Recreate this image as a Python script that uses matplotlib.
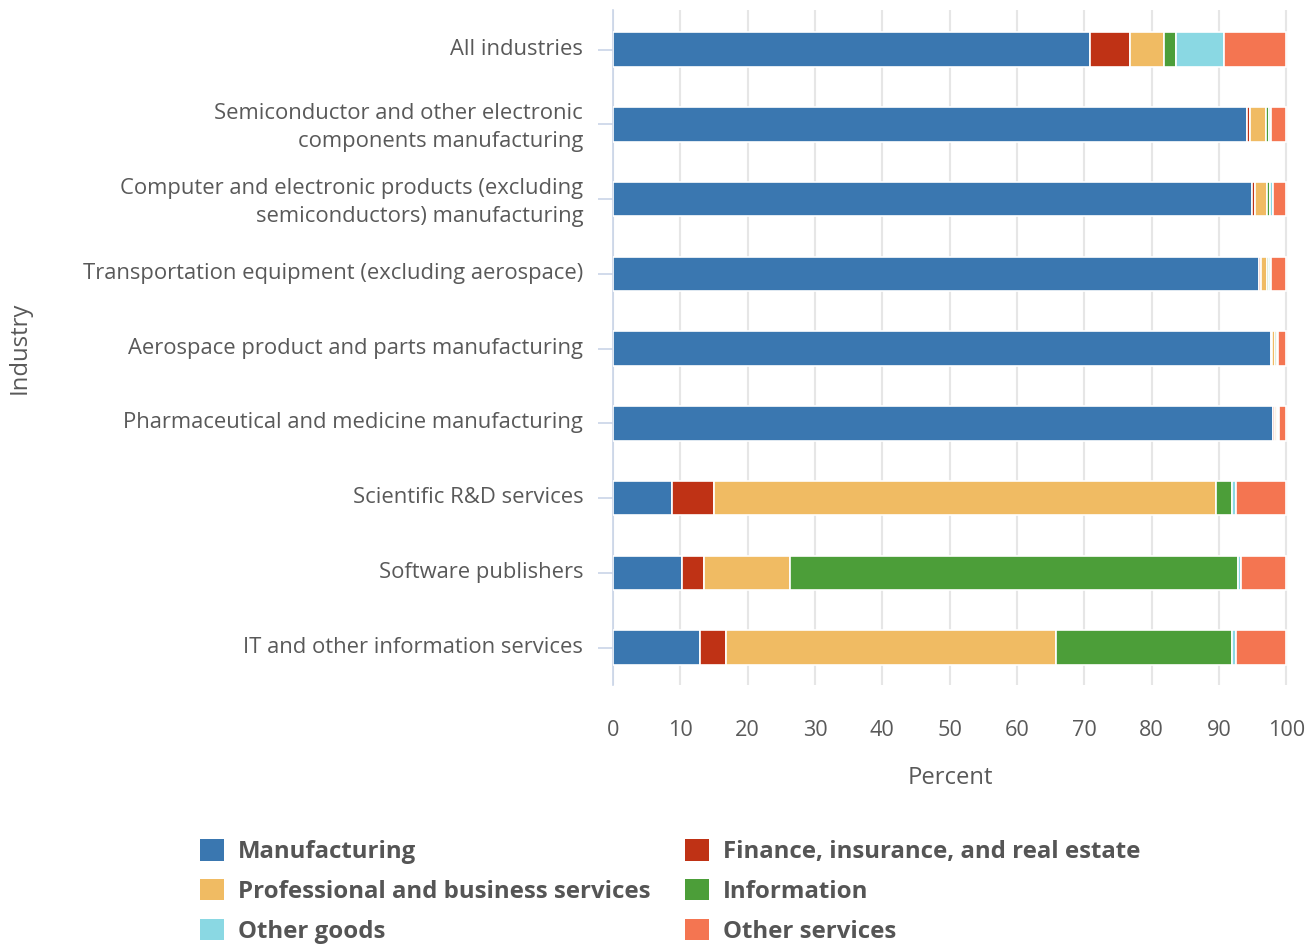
import matplotlib
matplotlib.use("Agg")
import matplotlib.pyplot as plt
from matplotlib.patches import Patch
from matplotlib.transforms import ScaledTranslation
import numpy as np

plt.rcParams['font.family'] = ['Open Sans', 'DejaVu Sans']

industries = [
    "All industries",
    "Semiconductor and other electronic\ncomponents manufacturing",
    "Computer and electronic products (excluding\nsemiconductors) manufacturing",
    "Transportation equipment (excluding aerospace)",
    "Aerospace product and parts manufacturing",
    "Pharmaceutical and medicine manufacturing",
    "Scientific R&D services",
    "Software publishers",
    "IT and other information services",
]

series_names = [
    "Manufacturing",
    "Finance, insurance, and real estate",
    "Professional and business services",
    "Information",
    "Other goods",
    "Other services",
]

manufacturing = [70.9, 94.2, 95.0, 95.9, 97.7, 98.0, 8.8, 10.3, 12.9]
finance = [5.9, 0.4, 0.3, 0.3, 0.2, 0.3, 6.2, 3.2, 3.9]
professional = [5.1, 2.4, 1.9, 1.0, 0.5, 0.3, 74.6, 12.8, 49.0]
information = [1.7, 0.5, 0.4, 0.3, 0.2, 0.2, 2.4, 66.6, 26.2]
other_goods = [7.2, 0.2, 0.4, 0.3, 0.2, 0.2, 0.5, 0.4, 0.5]
other_services = [9.2, 2.3, 2.0, 2.2, 1.2, 1.0, 7.5, 6.7, 7.5]

colors = ["#3a77b0", "#bf3215", "#f0bb63", "#4c9e39", "#8ad8e3", "#f47551"]

x_ticks = [0, 10, 20, 30, 40, 50, 60, 70, 80, 90, 100]

series = [manufacturing, finance, professional, information, other_goods, other_services]

W, H = 1315, 944
fig = plt.figure(figsize=(W / 100, H / 100), dpi=100)
ax = fig.add_axes([613 / W, 1 - 685 / H, 674.5 / W, (685 - 10) / H])

text_color = "#595959"
ypos = np.arange(len(industries))
left = np.zeros(len(industries))
for name, vals, c in zip(series_names, series, colors):
    vals = np.array(vals)
    ax.barh(ypos, vals, left=left, height=0.46, color=c, edgecolor="white",
            linewidth=1.2, label=name, zorder=3)
    left += vals

ax.set_xlim(0, 100.2)
ax.set_ylim(len(industries) - 0.5, -0.53)
ax.set_yticks(ypos)
ax.set_yticklabels(industries, fontsize=15.8, color=text_color, linespacing=1.45)
ax.set_xticks(x_ticks)
ax.set_xticklabels([str(t) for t in x_ticks], fontsize=15.6, color=text_color)

ax.tick_params(axis='y', length=11, width=1.2, color="#c9d4e8", pad=10.5)
ax.tick_params(axis='x', length=0, pad=25)

# nudge y tick labels slightly upward
offset = ScaledTranslation(0, 3 / 100, fig.dpi_scale_trans)
for lbl in ax.get_yticklabels():
    lbl.set_transform(lbl.get_transform() + offset)

for s in ["top", "right", "bottom"]:
    ax.spines[s].set_visible(False)
ax.spines["left"].set_color("#c9d4e8")
ax.spines["left"].set_linewidth(1.2)

ax.grid(axis='x', color="#e6e6e6", linewidth=1.5, zorder=0)
ax.set_axisbelow(True)

ax.set_xlabel("Percent", fontsize=17.2, color=text_color, labelpad=18.5)
fig.text(20 / W, 1 - 348 / H, "Industry", rotation=90, fontsize=17.2,
         color=text_color, ha="center", va="center")

# legend (row-major order)
order = [0, 2, 4, 1, 3, 5]
handles = [Patch(facecolor=colors[i], edgecolor='none') for i in order]
labels = [series_names[i] for i in order]
leg = fig.legend(handles, labels, ncol=2, loc="upper left",
                 bbox_to_anchor=(200 / W, 1 - 839 / H), frameon=False,
                 prop={'size': 17.3, 'weight': 'bold'},
                 handlelength=1.0, handleheight=1.0, handletextpad=0.58,
                 columnspacing=1.42, labelspacing=0.62, borderaxespad=0,
                 borderpad=0)
for t in leg.get_texts():
    t.set_color("#555555")

fig.savefig("out.png", dpi=100)
